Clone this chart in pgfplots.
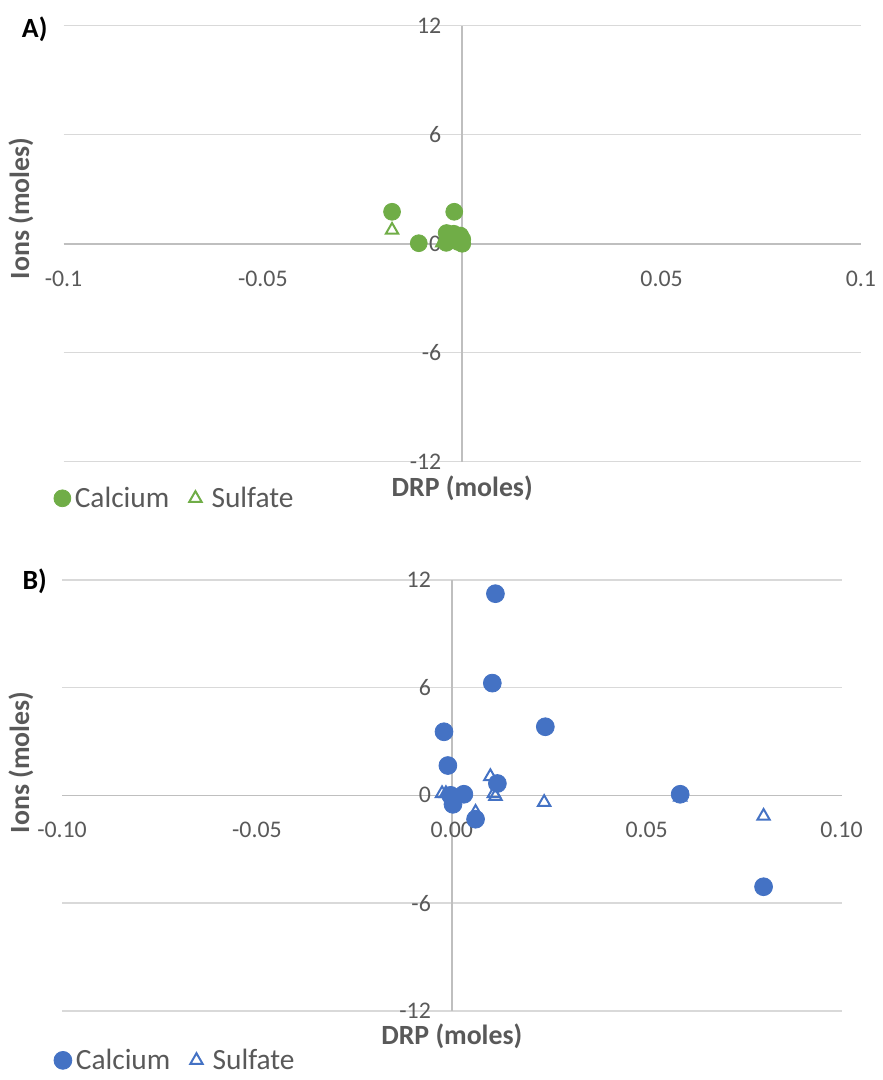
\documentclass[border=0pt]{standalone}
\usepackage{fontspec}
\setmainfont{Carlito}
\usepackage{pgfplots}
\pgfplotsset{compat=1.18}

\definecolor{cagreen}{HTML}{70AD47}
\definecolor{cablue}{HTML}{4472C4}
\definecolor{txtgray}{HTML}{595959}
\definecolor{gridgray}{HTML}{D9D9D9}
\definecolor{axgray}{HTML}{BFBFBF}

\pgfplotsset{
  excelpanel/.style={
    scale only axis,
    clip=false,
    xmin=-0.1, xmax=0.1,
    ymin=-12, ymax=12,
    axis x line=middle,
    axis y line=middle,
    axis line style={-,draw=axgray,line width=0.8pt},
    hide obscured x ticks=false,
    hide obscured y ticks=false,
    major tick length=0pt,
    ytick={-12,-6,0,6,12},
    yticklabels={-12,-6,0,6,12},
    ymajorgrids,
    grid style={draw=gridgray,line width=0.7pt},
    ticklabel style={font=\fontsize{12}{14}\selectfont,text=txtgray},
    yticklabel style={xshift=-7pt},
    xticklabel style={yshift=-10pt},
    xlabel={DRP (moles)},
    xlabel style={at={(axis description cs:0.5,0)},anchor=center,
      font=\fontsize{14}{16}\selectfont\bfseries,text=txtgray},
    legend cell align=left,
    legend style={draw=none,fill=none,legend columns=-1,
      font=\fontsize{14.8}{17}\selectfont,text=txtgray,
      /tikz/every even column/.append style={column sep=8pt}},
  },
}

\begin{document}
\begin{tikzpicture}
\path (0,0) rectangle (442.5pt,540pt);

% ---- panel A
\node[font=\fontsize{14}{16}\selectfont\bfseries] at (17.5pt,525pt) {A)};
\node[rotate=90,font=\fontsize{14}{16}\selectfont\bfseries,text=txtgray] at (10.5pt,435pt) {Ions (moles)};
\begin{axis}[excelpanel,
  at={(32pt,307.5pt)}, anchor=south west,
  width=401.5pt, height=219.5pt,
  xtick={-0.1,-0.05,0.05,0.1},
  xticklabels={-0.1,-0.05,0.05,0.1},
  xlabel style={yshift=-13.5pt},
  legend style={at={(-0.02,-0.084)},anchor=west},
]
\addplot[only marks,mark=triangle,mark size=3.6pt,draw=cagreen,line width=1pt,forget plot]
  coordinates {(-0.0176,0.75) (-0.005,0.05) (-0.001,0.05) (0,0.1) (-0.003,0.2)};
\addplot[only marks,mark=*,mark size=4.25pt,draw=cagreen,fill=cagreen]
  coordinates {(-0.0176,1.76) (-0.002,1.76) (-0.0109,0.03) (-0.0039,0.59)
    (-0.0021,0.55) (0,0.25) (-0.004,0.05) (-0.001,0.1) (0,0) (-0.0005,0.45)};
\addlegendentry{Calcium}
\addlegendimage{only marks,mark=triangle,mark size=3.6pt,draw=cagreen,line width=1pt}
\addlegendentry{\hspace{3pt}Sulfate}
\end{axis}

% ---- panel B
\node[font=\fontsize{14}{16}\selectfont\bfseries] at (17.5pt,247.5pt) {B)};
\node[rotate=90,font=\fontsize{14}{16}\selectfont\bfseries,text=txtgray] at (10.5pt,156pt) {Ions (moles)};
\begin{axis}[excelpanel,
  at={(31.25pt,31pt)}, anchor=south west,
  width=392.5pt, height=217pt,
  xtick={-0.1,-0.05,0,0.05,0.1},
  xticklabels={-0.10,-0.05,0.00,0.05,0.10},
  xlabel style={yshift=-13pt},
  legend style={at={(-0.0185,-0.115)},anchor=west},
]
\addplot[only marks,mark=triangle,mark size=3.6pt,draw=cablue,line width=1pt,forget plot]
  coordinates {(-0.0025,0.1) (-0.0015,0.1) (0.0099,1.05) (0.0112,-0.05)
    (0.0108,0.1) (0.0237,-0.39) (0.0061,-0.94) (0.0586,-0.1) (0.0800,-1.16)};
\addplot[only marks,mark=*,mark size=4.5pt,draw=cablue,fill=cablue]
  coordinates {(0.0112,11.23) (0.0104,6.25) (-0.0020,3.54) (-0.0010,1.66)
    (0.0240,3.82) (0.0117,0.66) (0.0031,0.06) (0.0003,-0.5) (0.0061,-1.33)
    (-0.0003,0.0) (0.0586,0.06) (0.0800,-5.09)};
\addlegendentry{Calcium}
\addlegendimage{only marks,mark=triangle,mark size=3.6pt,draw=cablue,line width=1pt}
\addlegendentry{\hspace{3pt}Sulfate}
\end{axis}
\end{tikzpicture}
\end{document}
